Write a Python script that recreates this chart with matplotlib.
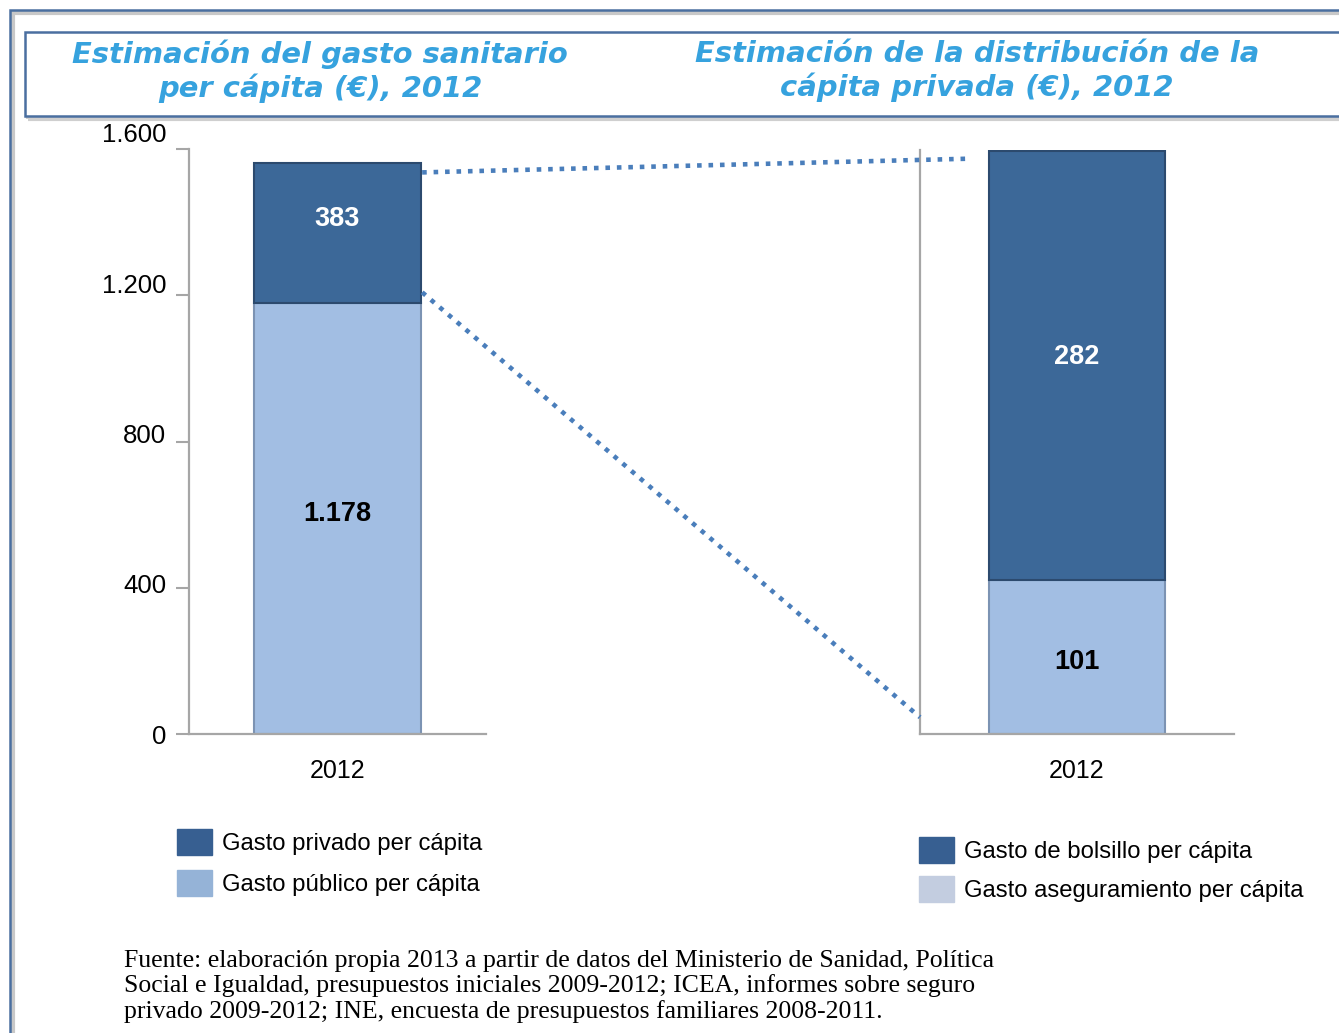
import matplotlib.pyplot as plt
from matplotlib.patches import Rectangle, Patch, ConnectionPatch

# data
year_label = ['2012']
gasto_publico = [1178]
gasto_privado = [383]
gasto_aseguramiento = [101]
gasto_bolsillo = [282]
y_ticks = [0, 400, 800, 1200, 1600]
y_tick_labels = ['0', '400', '800', '1.200', '1.600']

title_left = 'Estimación del gasto sanitario\nper cápita (€), 2012'
title_right = 'Estimación de la distribución de la\ncápita privada (€), 2012'
legend_left = ['Gasto privado per cápita', 'Gasto público per cápita']
legend_right = ['Gasto de bolsillo per cápita', 'Gasto aseguramiento per cápita']
source_text = ('Fuente: elaboración propia 2013 a partir de datos del Ministerio de Sanidad, Política\n'
               'Social e Igualdad, presupuestos iniciales 2009-2012; ICEA, informes sobre seguro\n'
               'privado 2009-2012; INE, encuesta de presupuestos familiares 2008-2011.')

DARK = '#3c6898'
LIGHT = '#a2bee3'
LEG_DARK = '#375f91'
LEG_LIGHT = '#95b3d7'
LEG_LIGHT2 = '#c3cde0'
FRAME = '#4a6fa0'
TITLE_COLOR = '#36a2de'
SPINE = '#a6a6a6'
DOTS = '#4a7ebb'
BAR_W = 0.56

plt.rcParams['font.family'] = ['Liberation Sans', 'DejaVu Sans']

W, H = 1339, 1033
fig = plt.figure(figsize=(W / 100, H / 100), dpi=100)


def fx(px):
    return px / W


def fy(py):
    return 1 - py / H


# outer frame and title box
fig.patches.append(Rectangle((fx(13), fy(1045)), fx(1340), fy(13) - fy(1045),
                             transform=fig.transFigure, fill=False, ec='#c8c8c8', lw=3))
fig.patches.append(Rectangle((fx(10), fy(1045)), fx(1340), fy(10) - fy(1045),
                             transform=fig.transFigure, fill=False, ec=FRAME, lw=1.8))
fig.patches.append(Rectangle((fx(28), fy(119)), fx(1330), fy(35) - fy(119),
                             transform=fig.transFigure, fill=False, ec='#cfcfcf', lw=3))
fig.patches.append(Rectangle((fx(25), fy(116)), fx(1330), fy(32) - fy(116),
                             transform=fig.transFigure, fc='white', ec=FRAME, lw=1.8))

title_kw = dict(ha='center', va='center', color=TITLE_COLOR, fontsize=20.9,
                fontweight='bold', fontstyle='italic', family='DejaVu Sans',
                linespacing=1.2)
fig.text(fx(320), fy(71), title_left, **title_kw)
fig.text(fx(977), fy(71), title_right, **title_kw)


def style_axis(ax):
    for side in ['top', 'right']:
        ax.spines[side].set_visible(False)
    for side in ['left', 'bottom']:
        ax.spines[side].set_color(SPINE)
        ax.spines[side].set_linewidth(1.6)
    ax.set_xlim(-0.5, 0.5)
    ax.set_xticks([0])
    ax.set_xticklabels(year_label)
    ax.tick_params(axis='x', length=0, pad=18, labelsize=18)
    ax.patch.set_alpha(0)


# left chart
ax1 = fig.add_axes([fx(189), fy(734), fx(486) - fx(189), fy(149) - fy(734)])
style_axis(ax1)
ax1.bar([0], gasto_publico, width=BAR_W, color=LIGHT, edgecolor='#7c93b3', lw=1.5)
ax1.bar([0], gasto_privado, bottom=gasto_publico, width=BAR_W, color=DARK,
        edgecolor='#2c4a6e', lw=1.5)
ax1.set_ylim(0, 1600)
ax1.set_yticks(y_ticks)
ax1.set_yticklabels([])
ax1.tick_params(axis='y', length=9.5, width=1.5, color=SPINE)
ax1.text(0, gasto_publico[0] * 0.51, f'{gasto_publico[0]:,}'.replace(',', '.'),
         ha='center', va='center', fontsize=19.5, fontweight='bold', color='black')
ax1.text(0, gasto_publico[0] + gasto_privado[0] * 0.6, str(gasto_privado[0]),
         ha='center', va='center', fontsize=19.5, fontweight='bold', color='white')

# y labels sit slightly off the ticks in the original, spread a bit wider
ax_lab = fig.add_axes([fx(189), fy(734), fx(486) - fx(189), fy(133) - fy(734)], frameon=False)
ax_lab.set_ylim(0, 1600)
ax_lab.set_xticks([])
ax_lab.set_yticks(y_ticks)
ax_lab.set_yticklabels(y_tick_labels)
ax_lab.tick_params(axis='y', length=0, pad=16.5, labelsize=18.5)
ax_lab.patch.set_alpha(0)

# right chart
ax2 = fig.add_axes([fx(920), fy(734), fx(1234) - fx(920), fy(150) - fy(734)])
style_axis(ax2)
ax2.bar([0], gasto_aseguramiento, width=BAR_W, color=LIGHT, edgecolor='#7c93b3', lw=1.5)
ax2.bar([0], gasto_bolsillo, bottom=gasto_aseguramiento, width=BAR_W, color=DARK,
        edgecolor='#2c4a6e', lw=1.5)
ax2.set_ylim(0, (gasto_aseguramiento[0] + gasto_bolsillo[0]) * 1.002)
ax2.set_yticks([])
ax2.text(0, gasto_aseguramiento[0] * 0.47, str(gasto_aseguramiento[0]),
         ha='center', va='center', fontsize=19.5, fontweight='bold', color='black')
ax2.text(0, gasto_aseguramiento[0] + gasto_bolsillo[0] * 0.52, str(gasto_bolsillo[0]),
         ha='center', va='center', fontsize=19.5, fontweight='bold', color='white')

# dotted connectors between the charts
total_left = gasto_publico[0] + gasto_privado[0]
total_right = gasto_aseguramiento[0] + gasto_bolsillo[0]
dot_kw = dict(color=DOTS, lw=3.3, linestyle=(0, (1, 1.5)), capstyle='butt')
con1 = ConnectionPatch(xyA=(BAR_W / 2 + 0.005, total_left - 25), coordsA=ax1.transData,
                       xyB=(-0.355, total_right - 5), coordsB=ax2.transData, **dot_kw)
con2 = ConnectionPatch(xyA=(BAR_W / 2 + 0.005, gasto_publico[0] + 30), coordsA=ax1.transData,
                       xyB=(-0.5, 11), coordsB=ax2.transData, **dot_kw)
fig.add_artist(con1)
fig.add_artist(con2)

# legends
leg_kw = dict(frameon=False, fontsize=17.2, handlelength=1.45, handleheight=1.3,
              handletextpad=0.45, borderpad=0, loc='upper left')
h1 = [Patch(color=LEG_DARK), Patch(color=LEG_LIGHT)]
fig.legend(h1, legend_left, bbox_to_anchor=(fx(165), fy(817)), labelspacing=0.63, **leg_kw)
h2 = [Patch(color=LEG_DARK), Patch(color=LEG_LIGHT2)]
fig.legend(h2, legend_right, bbox_to_anchor=(fx(907), fy(825)), labelspacing=0.56, **leg_kw)

# source
fig.text(fx(124), fy(950), source_text, ha='left', va='top', fontsize=18.5,
         family='Liberation Serif', linespacing=1.13)

fig.savefig('out.png', dpi=100)
